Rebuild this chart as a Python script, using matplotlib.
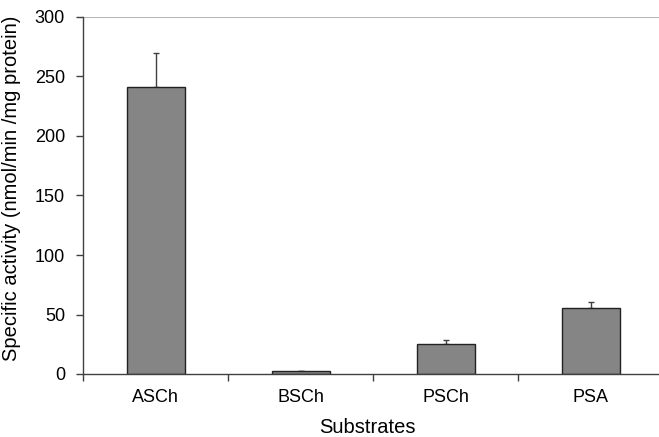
import matplotlib as mpl
import matplotlib.pyplot as plt
import numpy as np

mpl.rcParams.update(
    {
        "font.family": ["Liberation Sans", "DejaVu Sans"],
        "font.size": 13,
    }
)

# Data
substrates = ["ASCh", "BSCh", "PSCh", "PSA"]
activity = [241.5, 2.5, 25.2, 55.5]
activity_err = [28.5, 0.0, 3.4, 5.0]
y_ticks = [0, 50, 100, 150, 200, 250, 300]

AXIS_COLOR = "#404040"
BAR_COLOR = "#858585"

fig = plt.figure(figsize=(6.59, 4.37), dpi=100)
ax = fig.add_axes([83 / 659, 1 - 374 / 437, 580 / 659, 357 / 437])

x = np.arange(len(substrates))
ax.bar(x, activity, width=0.4, color=BAR_COLOR, edgecolor="#222222", linewidth=1.0, zorder=2)
ax.errorbar(
    x,
    activity,
    yerr=[np.zeros(len(activity_err)), activity_err],
    fmt="none",
    ecolor=AXIS_COLOR,
    elinewidth=1.0,
    capsize=2.5,
    capthick=1.0,
    zorder=1,
)

ax.axhline(300, color="#b8b8b8", linewidth=1.5, zorder=0)

ax.set_xlim(-0.5, len(substrates) - 0.5)
ax.set_ylim(0, 300)
ax.set_yticks(y_ticks)

# category separators as tick marks, labels at category centres
ax.set_xticks(np.arange(len(substrates) + 1) - 0.5)
ax.set_xticklabels([])
ax.set_xticks(x, minor=True)
ax.set_xticklabels(substrates, minor=True)
ax.tick_params(axis="x", which="major", length=5, width=1, color=AXIS_COLOR, direction="out")
ax.tick_params(axis="x", which="minor", length=0, pad=11, labelsize=13)
ax.tick_params(axis="y", length=5, width=1, color=AXIS_COLOR, direction="out", pad=8, labelsize=13)

for side in ("top", "right"):
    ax.spines[side].set_visible(False)
for side in ("left", "bottom"):
    ax.spines[side].set_color(AXIS_COLOR)
    ax.spines[side].set_linewidth(1.0)

# axis titles placed in figure pixels to match the reference
fig.text(367 / 659, 1 - 433 / 437, "Substrates", fontsize=14.5, ha="center", va="baseline")
fig.text(12 / 659, 1 - 188 / 437, "Specific activity (nmol/min /mg protein)",
         fontsize=14.5, rotation=90, ha="center", va="center")

fig.savefig("out.png", dpi=100, facecolor="white")
plt.close(fig)
